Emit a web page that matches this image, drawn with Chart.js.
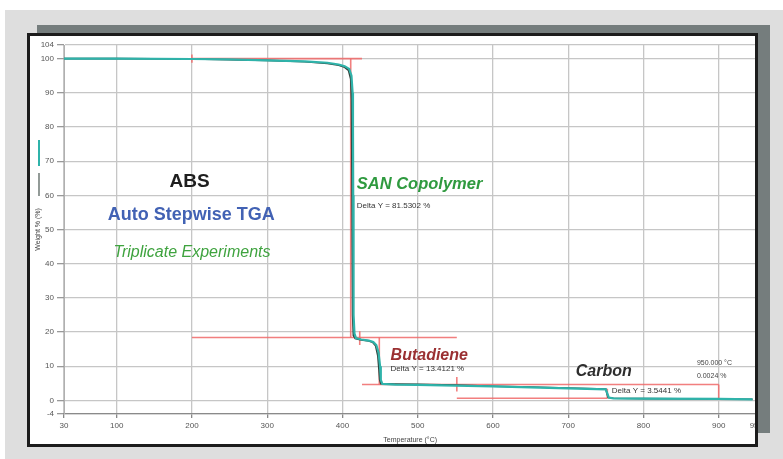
<!DOCTYPE html>
<html>
<head>
<meta charset="utf-8">
<script src="https://cdn.jsdelivr.net/npm/chart.js@4.4.0/dist/chart.umd.min.js"></script>
<style>
  html, body { margin: 0; padding: 0; background: #ffffff; }
  body { width: 783px; height: 459px; position: relative; overflow: hidden; font-family: "Liberation Sans", Arial, sans-serif; }
  .panel { position: absolute; left: 5px; top: 10px; width: 778px; height: 449px; background: #dedede; }
  .shadow { position: absolute; left: 37px; top: 25px; width: 733px; height: 408px; background: #757d7d; }
  .frame { position: absolute; left: 27px; top: 33px; width: 731px; height: 414px; box-sizing: border-box;
           border: 3px solid #1c1c1c; background: #ffffff; overflow: hidden; }
  .frame canvas { position: absolute; left: 0; top: 0; }
</style>
</head>
<body>
<div class="panel"></div>
<div class="shadow"></div>
<div class="frame">
  <canvas id="tga" width="736" height="408" style="width:736px;height:408px"></canvas>
</div>
<script>
// Données (température en °C, masse en %)
const xTicks = [30, 100, 200, 300, 400, 500, 600, 700, 800, 900, 950];
const yTicks = [-4, 0, 10, 20, 30, 40, 50, 60, 70, 80, 90, 100, 104];

// essai 1 (turquoise)
const runTealT = [30, 100, 200, 250, 300, 350, 380, 395, 403, 409, 412, 413.5, 414, 414.3, 414.6, 415, 416, 418, 425, 435, 441, 445, 448, 450, 451, 453, 470, 500, 550, 600, 650, 700, 750, 752, 754, 760, 800, 900, 945];
const runTealW = [100, 100, 99.9, 99.8, 99.5, 99.2, 98.8, 98.3, 97.8, 97.0, 95, 90, 80, 60, 40, 25, 19.5, 18.2, 17.8, 17.5, 17.1, 16.2, 14, 10, 6, 4.8, 4.6, 4.5, 4.3, 4.1, 3.8, 3.5, 3.2, 2.0, 0.8, 0.6, 0.5, 0.4, 0.3];

// essai 2 (foncé)
const runDarkT = [30, 100, 200, 250, 300, 350, 380, 395, 402, 408, 411, 412, 412.5, 413, 413.5, 414.5, 417, 425, 435, 440, 444, 447, 448.5, 449.5, 451, 470, 500, 550, 600, 650, 700, 750, 751.5, 753, 760, 800, 900, 945];
const runDarkW = [100, 100, 99.9, 99.7, 99.5, 99.1, 98.6, 98.1, 97.6, 96.6, 94, 88, 70, 45, 25, 19, 18.1, 17.7, 17.4, 17.0, 16, 13, 9, 6, 4.9, 4.8, 4.7, 4.5, 4.1, 3.9, 3.6, 3.3, 2.0, 0.8, 0.6, 0.5, 0.4, 0.3];

// Tangentes d'analyse (segments rouges) : [T1, W1, T2, W2]
const tangentSegments = [
  [200, 100, 426, 100],
  [200, 98.8, 200, 101.2],
  [411, 100, 411, 18.4],
  [200, 18.4, 552, 18.4],
  [423, 16.2, 423, 20.2],
  [449, 18.4, 449, 4.65],
  [426, 4.65, 900, 4.65],
  [900, 4.65, 900, 0.3],
  [552, 2.6, 552, 6.8],
  [552, 0.6, 752, 0.6],
  [752, 0.6, 752, 3.4]
];

function toPoints(ts, ws) {
  return ts.map((t, i) => ({ x: t, y: ws[i] }));
}

const datasets = [];
datasets.push({
  label: 'Run 1', data: toPoints(runTealT, runTealW),
  borderColor: '#2fb3aa', borderWidth: 2.2, pointRadius: 0, order: 1, tension: 0
});
datasets.push({
  label: 'Run 2', data: toPoints(runDarkT, runDarkW),
  borderColor: '#34453f', borderWidth: 1.6, pointRadius: 0, order: 2, tension: 0
});
tangentSegments.forEach((s, i) => {
  datasets.push({
    label: 'Tangent ' + (i + 1),
    data: [{ x: s[0], y: s[1] }, { x: s[2], y: s[3] }],
    borderColor: 'rgba(240,105,105,0.85)', borderWidth: 1.6, pointRadius: 0, order: 3
  });
});

// Textes d'annotation, placés en coordonnées des données
const annotations = [
  { text: 'ABS', t: 197, w: 64.0, font: 'bold 19px "Liberation Sans"', color: '#1e1e1e', align: 'center' },
  { text: 'Auto Stepwise TGA', t: 199, w: 54.1, font: 'bold 18px "Liberation Sans"', color: '#4262b4', align: 'center' },
  { text: 'Triplicate Experiments', t: 200, w: 43.3, font: 'italic 16px "Liberation Sans"', color: '#3fa33f', align: 'center' },
  { text: 'SAN Copolymer', t: 419, w: 63.1, font: 'italic bold 16.5px "Liberation Sans"', color: '#2f9a3f', align: 'left' },
  { text: 'Delta Y = 81.5302 %', t: 419, w: 57.0, font: '8px "Liberation Sans"', color: '#333333', align: 'left' },
  { text: 'Butadiene', t: 464, w: 13.1, font: 'italic bold 16px "Liberation Sans"', color: '#9a3032', align: 'left' },
  { text: 'Delta Y = 13.4121 %', t: 464, w: 9.3, font: '8px "Liberation Sans"', color: '#333333', align: 'left' },
  { text: 'Carbon', t: 710, w: 8.4, font: 'italic bold 16px "Liberation Sans"', color: '#2e2e2e', align: 'left' },
  { text: 'Delta Y = 3.5441 %', t: 758, w: 2.9, font: '8px "Liberation Sans"', color: '#333333', align: 'left' },
  { text: '950.000 °C', t: 871, w: 10.8, font: '7px "Liberation Sans"', color: '#444444', align: 'left' },
  { text: '0.0024 %', t: 871, w: 7.0, font: '7px "Liberation Sans"', color: '#444444', align: 'left' }
];

const annotationPlugin = {
  id: 'annotationPlugin',
  afterDatasetsDraw(chart) {
    const ctx = chart.ctx;
    const xs = chart.scales.x, ys = chart.scales.y;
    ctx.save();
    ctx.textBaseline = 'middle';
    annotations.forEach(a => {
      ctx.font = a.font;
      ctx.fillStyle = a.color;
      ctx.textAlign = a.align;
      ctx.fillText(a.text, xs.getPixelForValue(a.t), ys.getPixelForValue(a.w));
    });
    // marques de légende à côté du titre de l'axe Y
    ctx.lineWidth = 2;
    ctx.strokeStyle = '#2fb3aa';
    ctx.beginPath(); ctx.moveTo(9, 104); ctx.lineTo(9, 130); ctx.stroke();
    ctx.lineWidth = 1.2;
    ctx.strokeStyle = '#4a5853';
    ctx.beginPath(); ctx.moveTo(9, 137); ctx.lineTo(9, 160); ctx.stroke();
    ctx.restore();
  }
};

const tickFont = { family: '"Liberation Sans"', size: 8 };

new Chart(document.getElementById('tga'), {
  type: 'line',
  data: { datasets: datasets },
  options: {
    responsive: false,
    animation: false,
    parsing: true,
    layout: { padding: { top: 9, right: 0, left: 0, bottom: 0 } },
    plugins: { legend: { display: false }, tooltip: { enabled: false } },
    scales: {
      x: {
        type: 'linear', min: 30, max: 950,
        afterBuildTicks: s => { s.ticks = xTicks.map(v => ({ value: v })); },
        afterFit: s => { s.height = 30; },
        ticks: { font: tickFont, color: '#555', padding: 3, maxRotation: 0, autoSkip: false },
        grid: { color: '#c6c6c6', lineWidth: 1.3, tickLength: 4, tickColor: '#888' },
        border: { color: '#8a8a8a', width: 1.3 },
        title: { display: true, text: 'Temperature (°C)', font: { family: '"Liberation Sans"', size: 7 }, color: '#444', padding: 0 }
      },
      y: {
        type: 'linear', min: -4, max: 104,
        afterBuildTicks: s => { s.ticks = yTicks.map(v => ({ value: v })); },
        afterFit: s => { s.width = 34; },
        ticks: { font: tickFont, color: '#555', padding: 3, autoSkip: false },
        grid: { color: '#c6c6c6', lineWidth: 1.3, tickLength: 7, tickColor: '#999' },
        border: { color: '#b0b0b0', width: 1 },
        title: { display: true, text: 'Weight % (%)', font: { family: '"Liberation Sans"', size: 7 }, color: '#444', padding: { top: 4, bottom: 0 } }
      }
    }
  },
  plugins: [annotationPlugin]
});
</script>
</body>
</html>
